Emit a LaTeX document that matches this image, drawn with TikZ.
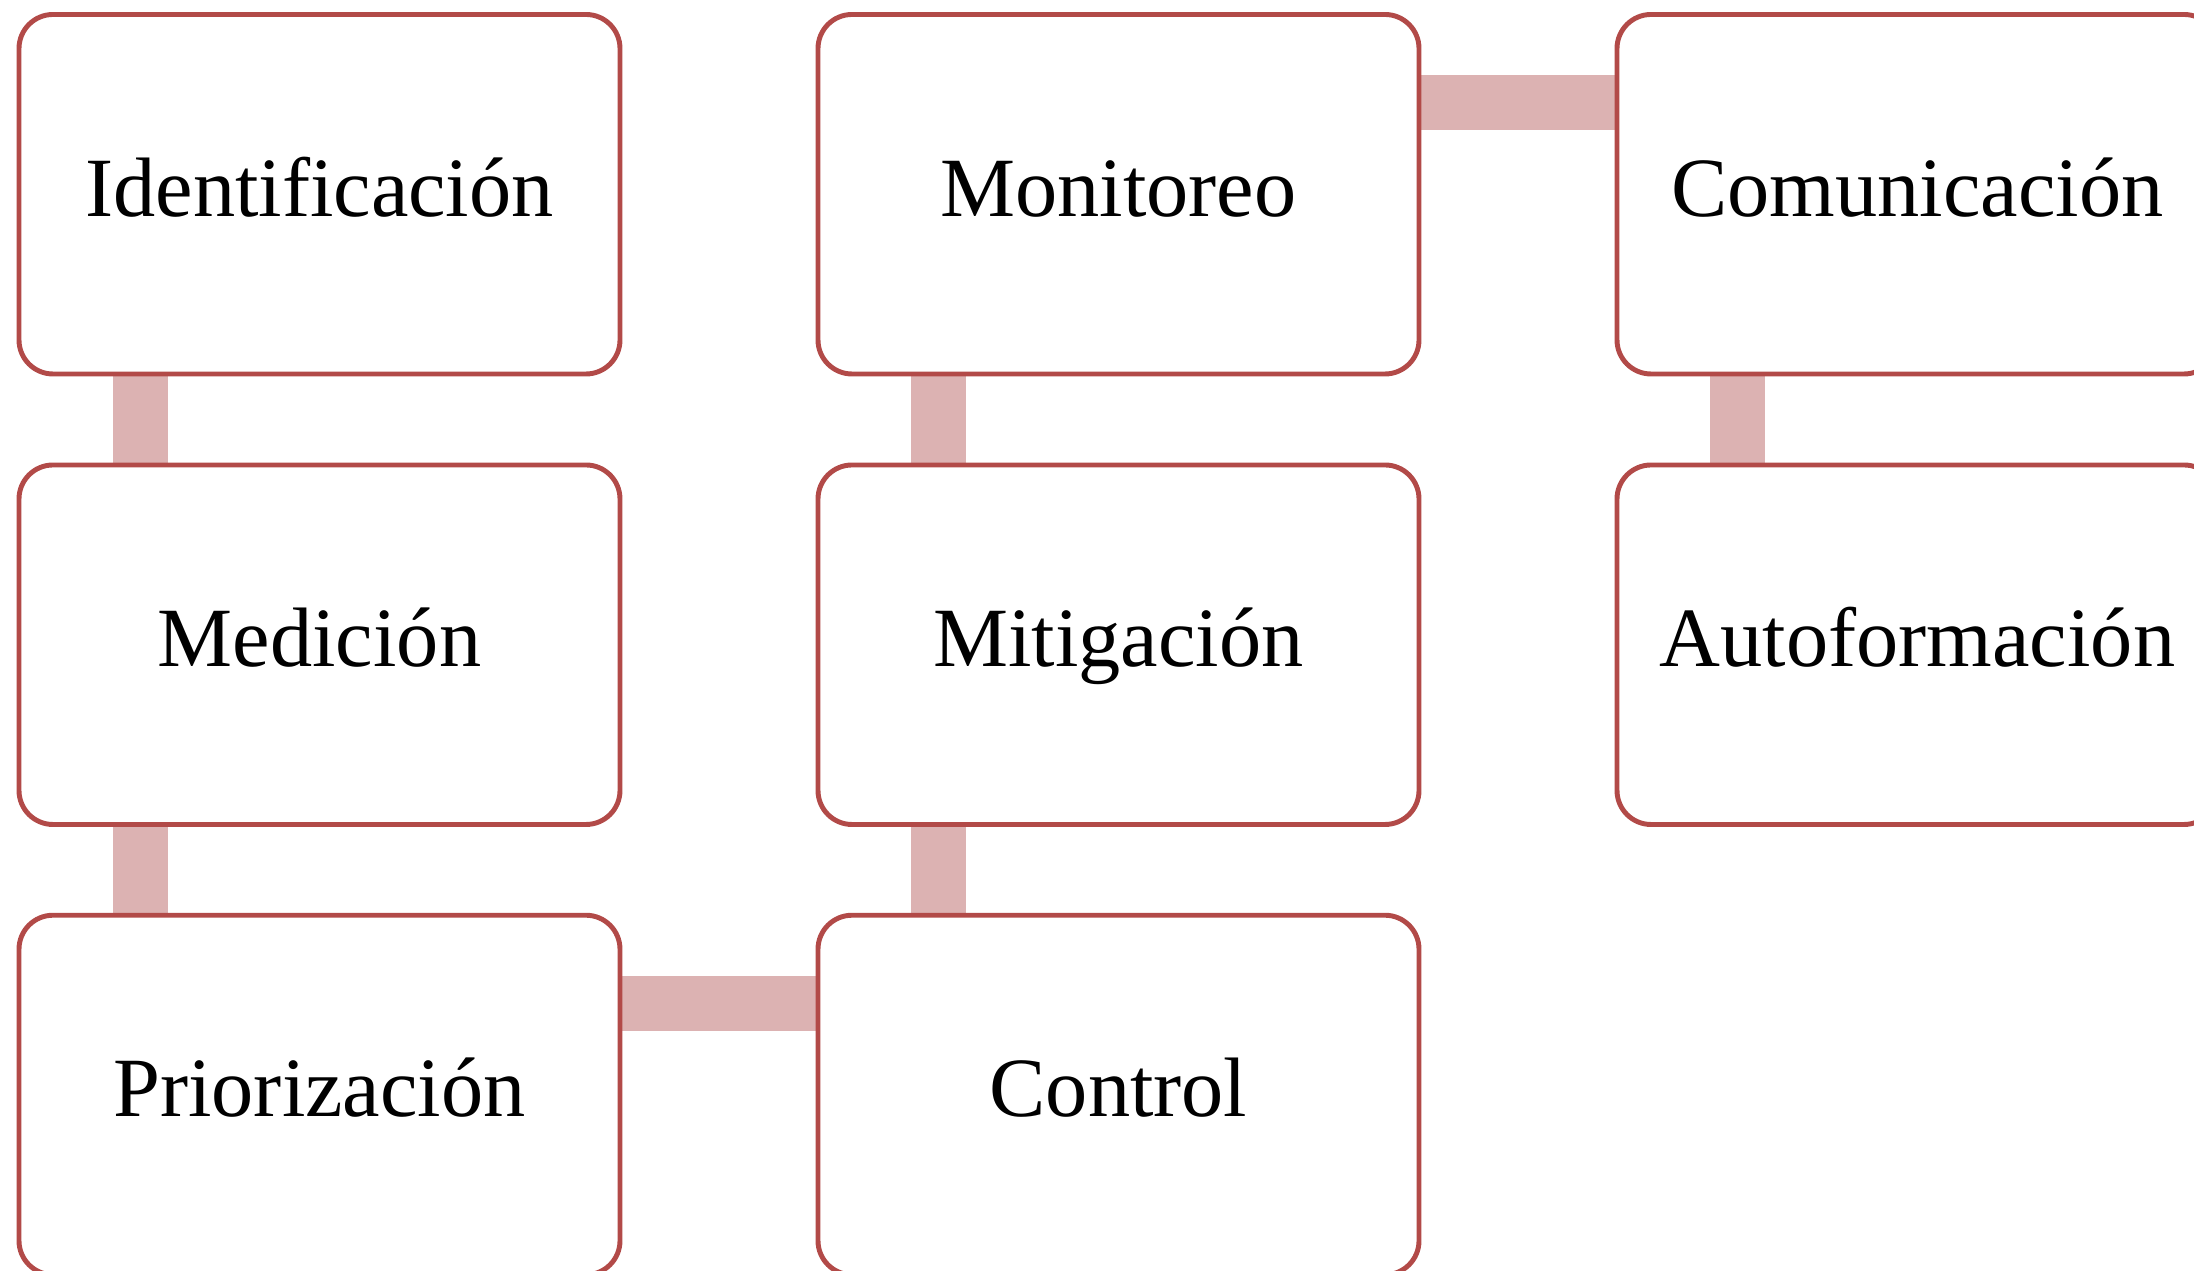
\documentclass[tikz,border=0pt]{standalone}
\usepackage{fontspec}
\setmainfont{Liberation Serif}
\usepackage{tikz}
\usetikzlibrary{backgrounds}
\definecolor{boxred}{RGB}{178,74,72}
\definecolor{linkpink}{RGB}{220,178,178}
\tikzset{
    stage/.style = {rectangle, rounded corners=0.34cm, draw=boxred, line width=1.4pt, fill=white, minimum width=6.01cm, minimum height=3.595cm, text height=0.6cm, text depth=0.16cm, font=\fontsize{24}{28}\selectfont},
    edgel/.style = {line width=0.55cm, draw=linkpink}, % link band
}

\begin{document}
\begin{tikzpicture}
\useasboundingbox (0,0) rectangle (21.94,12.71);
\node[stage] at ( 3.195, 10.7675) (iden) {Identificación};
\node[stage] at ( 3.195,  6.2625) (medi) {Medición};
\node[stage] at ( 3.195,  1.76)   (prio) {Priorización};

\node[stage] at (11.185, 10.7675) (moni) {Monitoreo};
\node[stage] at (11.185,  6.2625) (miti) {Mitigación};
\node[stage] at (11.185,  1.76)   (cont) {Control};

\node[stage] at (19.175, 10.7675) (comu) {Comunicación};
\node[stage] at (19.175,  6.2625) (auto) {Autoformación};
%
\begin{scope}[on background layer]
\draw[edgel] ([xshift=1.24cm]iden.south west) -- ([xshift=1.24cm]medi.north west);
\draw[edgel] ([xshift=1.24cm]medi.south west) -- ([xshift=1.24cm]prio.north west);
\draw[edgel] ([yshift=-0.905cm]prio.north east) -- ([yshift=-0.905cm]cont.north west);
\draw[edgel] ([xshift=1.23cm]cont.north west) -- ([xshift=1.23cm]miti.south west);
\draw[edgel] ([xshift=1.23cm]miti.north west) -- ([xshift=1.23cm]moni.south west);
\draw[edgel] ([yshift=-0.905cm]moni.north east) -- ([yshift=-0.905cm]comu.north west);
\draw[edgel] ([xshift=1.23cm]comu.south west) -- ([xshift=1.23cm]auto.north west);
\end{scope}
\end{tikzpicture}
\end{document}
